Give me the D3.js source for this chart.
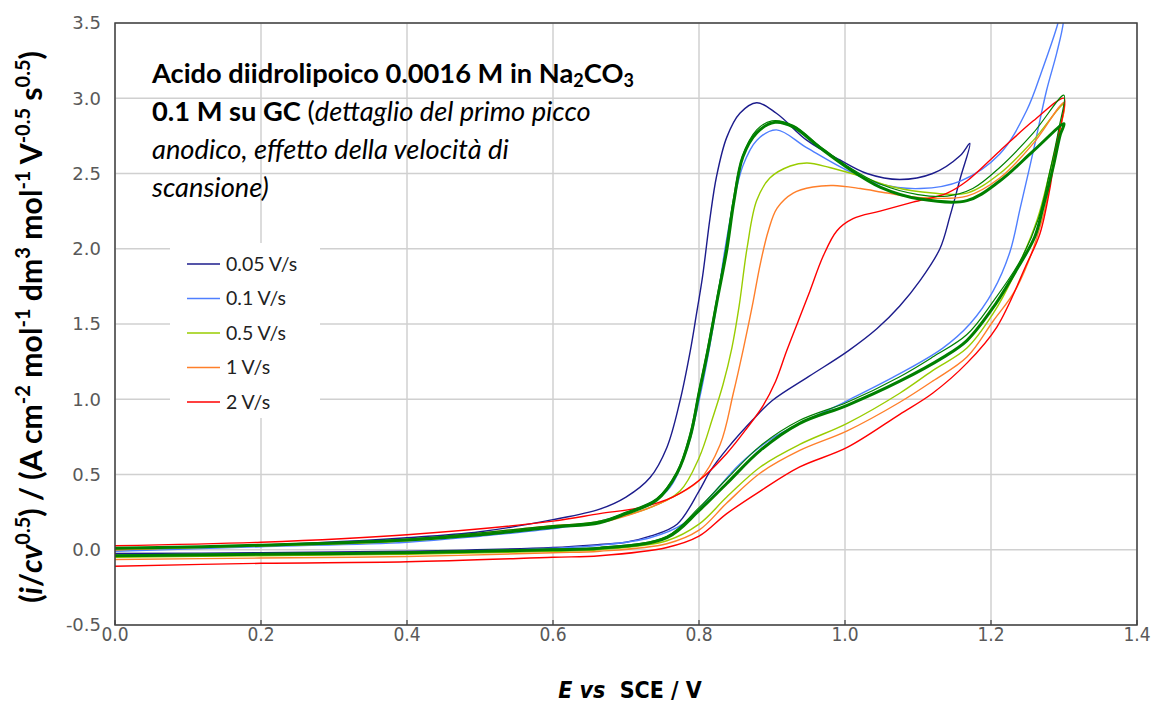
<!DOCTYPE html>
<html lang="it">
<head>
<meta charset="UTF-8">
<title>Acido diidrolipoico - CV</title>
<script src="https://d3js.org/d3.v7.min.js"></script>
<style>
  body { margin: 0; background: #fff; }
  svg { display: block; }
  .grid line { stroke: #d0d0d0; stroke-width: 1.5; }
  .ytick { font-family: "DejaVu Sans", Verdana, sans-serif; font-size: 18px; fill: #595959; }
  .xtick { font-family: "Liberation Sans Narrow", "DejaVu Sans Condensed", Lato, sans-serif; font-size: 19px; fill: #595959; }
  .cv { fill: none; stroke-linejoin: round; }
  .lab { font-family: Lato, "Open Sans", sans-serif; }
</style>
</head>
<body>
<svg width="1155" height="709"></svg>
<script>
// assi
const xTicks = [0, 0.2, 0.4, 0.6, 0.8, 1.0, 1.2, 1.4];
const yTicks = [-0.5, 0, 0.5, 1.0, 1.5, 2.0, 2.5, 3.0, 3.5];

// curve [E, i/cv^0.5]: andata poi ritorno
const v005 = [[0,0.0],[0.2,0.03],[0.4,0.08],[0.5,0.12],[0.6,0.20],[0.664,0.27],[0.70,0.35],[0.733,0.48],[0.756,0.68],[0.774,0.99],[0.788,1.32],[0.796,1.55],[0.805,1.82],[0.815,2.20],[0.824,2.48],[0.838,2.74],[0.856,2.90],[0.879,2.97],[0.906,2.90],[0.948,2.72],[0.993,2.59],[1.03,2.50],[1.075,2.46],[1.12,2.50],[1.158,2.62],[1.171,2.70],
  [1.158,2.47],[1.144,2.22],[1.13,2.0],[1.103,1.79],[1.075,1.62],[1.044,1.47],[1.004,1.32],[0.95,1.15],[0.90,0.99],[0.873,0.86],[0.84,0.68],[0.815,0.52],[0.80,0.39],[0.77,0.17],[0.733,0.09],[0.70,0.05],[0.664,0.035],[0.6,0.015],[0.4,-0.01],[0.2,-0.02],[0,-0.025]];

const v01 = [[0,-0.01],[0.2,0.02],[0.4,0.05],[0.5,0.09],[0.6,0.14],[0.664,0.19],[0.71,0.26],[0.756,0.39],[0.783,0.66],[0.80,0.99],[0.812,1.28],[0.824,1.62],[0.835,1.98],[0.847,2.3],[0.86,2.55],[0.879,2.72],[0.906,2.79],[0.948,2.67],[1.003,2.52],[1.048,2.43],[1.103,2.40],[1.158,2.45],[1.212,2.63],[1.249,2.92],[1.271,3.2],[1.29,3.47],[1.30,3.65],
  [1.299,3.5],[1.29,3.3],[1.276,3.05],[1.258,2.65],[1.24,2.27],[1.226,1.98],[1.203,1.72],[1.171,1.50],[1.134,1.34],[1.075,1.17],[1.003,0.99],[0.90,0.74],[0.856,0.57],[0.815,0.35],[0.778,0.17],[0.733,0.08],[0.664,0.03],[0.6,0.01],[0.4,-0.02],[0.2,-0.03],[0,-0.04]];

const v05 = [[0,0.0],[0.2,0.025],[0.4,0.06],[0.6,0.15],[0.664,0.19],[0.733,0.28],[0.774,0.39],[0.80,0.61],[0.819,0.88],[0.833,1.10],[0.845,1.34],[0.855,1.62],[0.866,2.01],[0.879,2.32],[0.897,2.47],[0.925,2.55],[0.948,2.57],[0.979,2.54],[1.016,2.49],[1.066,2.41],[1.12,2.37],[1.167,2.37],[1.212,2.50],[1.258,2.72],[1.30,2.96],
  [1.292,2.75],[1.28,2.5],[1.263,2.19],[1.23,1.81],[1.203,1.57],[1.167,1.34],[1.12,1.19],[1.075,1.04],[1.003,0.84],[0.938,0.70],[0.884,0.55],[0.838,0.35],[0.80,0.17],[0.756,0.06],[0.664,0.0],[0.6,-0.01],[0.4,-0.03],[0.2,-0.04],[0,-0.05]];

const v1 = [[0,0.0],[0.2,0.03],[0.4,0.065],[0.6,0.16],[0.664,0.18],[0.71,0.24],[0.756,0.33],[0.80,0.46],[0.829,0.70],[0.847,1.04],[0.861,1.34],[0.873,1.62],[0.884,1.90],[0.895,2.12],[0.907,2.27],[0.929,2.37],[0.956,2.41],[0.984,2.42],[1.021,2.40],[1.058,2.37],[1.103,2.34],[1.167,2.35],[1.212,2.47],[1.258,2.70],[1.30,2.97],
  [1.29,2.7],[1.27,2.19],[1.235,1.74],[1.203,1.52],[1.167,1.28],[1.12,1.12],[1.075,0.98],[1.003,0.79],[0.938,0.66],[0.884,0.51],[0.838,0.31],[0.80,0.13],[0.756,0.04],[0.664,-0.01],[0.6,-0.02],[0.4,-0.045],[0.2,-0.055],[0,-0.065]];

const v2 = [[0,0.027],[0.2,0.05],[0.4,0.10],[0.6,0.19],[0.664,0.24],[0.719,0.28],[0.764,0.35],[0.80,0.46],[0.838,0.64],[0.866,0.81],[0.888,0.96],[0.905,1.12],[0.92,1.32],[0.936,1.52],[0.952,1.72],[0.97,1.95],[0.989,2.12],[1.011,2.20],[1.048,2.25],[1.093,2.31],[1.14,2.37],[1.167,2.45],[1.212,2.65],[1.258,2.85],[1.30,3.0],
  [1.298,2.88],[1.29,2.70],[1.281,2.41],[1.267,2.10],[1.249,1.90],[1.208,1.48],[1.167,1.24],[1.12,1.04],[1.075,0.90],[1.003,0.68],[0.938,0.55],[0.884,0.39],[0.838,0.24],[0.80,0.09],[0.756,0.015],[0.664,-0.04],[0.6,-0.05],[0.4,-0.08],[0.2,-0.09],[0,-0.11]];

// curve verdi (senza legenda)
const vg1 = [[0,0.01],[0.2,0.03],[0.4,0.07],[0.6,0.16],[0.664,0.19],[0.70,0.25],[0.742,0.34],[0.77,0.52],[0.788,0.78],[0.80,1.06],[0.811,1.32],[0.824,1.66],[0.836,1.98],[0.846,2.30],[0.86,2.62],[0.879,2.79],[0.9,2.85],[0.929,2.82],[0.966,2.68],[1.003,2.55],[1.048,2.43],[1.1,2.36],[1.14,2.35],[1.175,2.40],[1.212,2.54],[1.258,2.77],[1.30,3.02],
  [1.293,2.8],[1.28,2.5],[1.265,2.2],[1.24,1.92],[1.203,1.65],[1.167,1.43],[1.12,1.28],[1.075,1.15],[1.003,0.98],[0.938,0.86],[0.884,0.69],[0.838,0.47],[0.80,0.28],[0.756,0.09],[0.664,0.015],[0.6,0.005],[0.4,-0.015],[0.2,-0.025],[0,-0.035]];

const vg2 = [[0,0.01],[0.2,0.03],[0.4,0.065],[0.5,0.10],[0.6,0.15],[0.664,0.18],[0.70,0.24],[0.742,0.33],[0.77,0.51],[0.788,0.75],[0.80,1.04],[0.812,1.32],[0.825,1.66],[0.838,1.99],[0.848,2.32],[0.86,2.61],[0.879,2.77],[0.904,2.84],[0.929,2.81],[0.966,2.67],[1.003,2.54],[1.048,2.41],[1.103,2.33],[1.167,2.32],[1.212,2.45],[1.258,2.65],[1.30,2.83],
  [1.295,2.76],[1.285,2.54],[1.271,2.27],[1.26,2.08],[1.235,1.86],[1.203,1.61],[1.167,1.39],[1.135,1.28],[1.075,1.12],[1.003,0.96],[0.938,0.84],[0.884,0.66],[0.838,0.44],[0.80,0.26],[0.756,0.08],[0.664,0.01],[0.6,0.0],[0.4,-0.02],[0.2,-0.03],[0,-0.04]];

const speeds = ["0.05 V/s", "0.1 V/s", "0.5 V/s", "1 V/s", "2 V/s"];
const colors = ["#1c1c8c", "#4f7fff", "#99cc00", "#ff7f2a", "#ff0000"];

const svg = d3.select("svg");
const x = d3.scaleLinear().domain([0, 1.4]).range([115, 1137]);
const y = d3.scaleLinear().domain([-0.5, 3.5]).range([625, 23]);
const fmt = d => d.toFixed(1);

// griglia
const grid = svg.append("g").attr("class", "grid");
grid.selectAll(".h").data(yTicks).enter().append("line")
  .attr("x1", x(0)).attr("x2", x(1.4)).attr("y1", d => y(d)).attr("y2", d => y(d));
grid.selectAll(".v").data(xTicks).enter().append("line")
  .attr("y1", y(-0.5)).attr("y2", y(3.5)).attr("x1", d => x(d)).attr("x2", d => x(d));

// etichette assi
svg.append("g").selectAll("text").data(yTicks).enter().append("text")
  .attr("class", "ytick").attr("x", 101).attr("y", d => y(d)).attr("dy", "0.36em")
  .attr("text-anchor", "end").text(fmt);

svg.append("g").selectAll("text").data(xTicks).enter().append("text")
  .attr("class", "xtick").attr("x", d => x(d)).attr("y", 641)
  .attr("text-anchor", "middle").text(fmt);

// tacche in basso
svg.append("g").selectAll("line").data(xTicks).enter().append("line")
  .attr("x1", d => x(d)).attr("x2", d => x(d)).attr("y1", y(-0.5)).attr("y2", y(-0.5) - 5)
  .attr("stroke", "#404040").attr("stroke-width", 1.2);

// riquadro legenda (sfondo bianco)
svg.append("rect").attr("x", 170).attr("y", 243).attr("width", 150).attr("height", 175).attr("fill", "#fff");

// curve
svg.append("clipPath").attr("id", "clip").append("rect")
  .attr("x", x(0)).attr("y", y(3.5)).attr("width", x(1.4) - x(0)).attr("height", y(-0.5) - y(3.5));

const line = d3.line().x(d => x(d[0])).y(d => y(d[1])).curve(d3.curveCatmullRom.alpha(0.5));
const plot = svg.append("g").attr("clip-path", "url(#clip)");
const series = [v005, v01, v05, v1, v2];
series.forEach((s, i) => {
  plot.append("path").datum(s).attr("class", "cv").attr("stroke", colors[i]).attr("stroke-width", 1.4).attr("d", line);
});
plot.append("path").datum(vg1).attr("class", "cv").attr("stroke", "#008000").attr("stroke-width", 1.2).attr("d", line);
plot.append("path").datum(vg2).attr("class", "cv").attr("stroke", "#008000").attr("stroke-width", 3).attr("d", line);

// bordo area grafico
svg.append("rect").attr("x", x(0)).attr("y", y(3.5)).attr("width", x(1.4) - x(0)).attr("height", y(-0.5) - y(3.5))
  .attr("fill", "none").attr("stroke", "#404040").attr("stroke-width", 1.5);

// legenda
const leg = svg.append("g");
speeds.forEach((s, i) => {
  const ly = 264 + i * 34.5;
  leg.append("line").attr("x1", 187).attr("x2", 220).attr("y1", ly).attr("y2", ly)
    .attr("stroke", colors[i]).attr("stroke-width", 1.5);
  leg.append("text").attr("class", "lab").attr("x", 226).attr("y", ly).attr("dy", "0.35em")
    .attr("font-size", 19.5).attr("fill", "#222").text(s);
});

// titolo nel grafico
const title = svg.append("g").attr("class", "lab").attr("font-size", 20);
const t1 = title.append("text").attr("x", 152).attr("y", 83).attr("font-weight", "bold");
t1.append("tspan").text("Acido diidrolipoico 0.0016 M in Na");
t1.append("tspan").attr("dy", 4).attr("font-size", "66%").text("2");
t1.append("tspan").attr("dy", -4).text("CO");
t1.append("tspan").attr("dy", 4).attr("font-size", "66%").text("3");
const t2 = title.append("text").attr("x", 152).attr("y", 121);
t2.append("tspan").attr("font-weight", "bold").text("0.1 M su GC ");
t2.append("tspan").text("(");
t2.append("tspan").attr("font-style", "italic").text("dettaglio del primo picco");
title.append("text").attr("x", 152).attr("y", 159)
  .attr("font-style", "italic").text("anodico, effetto della velocità di");
title.append("text").attr("x", 152).attr("y", 197)
  .attr("font-style", "italic").text("scansione)");
// adatta la dimensione alla larghezza della prima riga
title.attr("font-size", 20 * 482 / t1.node().getComputedTextLength());

// titolo asse x
const xt = svg.append("text").attr("x", 630).attr("y", 698).attr("text-anchor", "middle")
  .attr("font-family", "'Liberation Sans Narrow', 'DejaVu Sans Condensed', Lato, sans-serif")
  .attr("font-size", 23).attr("font-weight", "bold");
xt.append("tspan").attr("font-style", "italic").text("E vs");
xt.append("tspan").text("\u00a0 SCE / V");

// titolo asse y
const yt = svg.append("text").attr("class", "lab").attr("transform", "translate(42,327) rotate(-90)")
  .attr("text-anchor", "middle").attr("font-size", 21).attr("font-weight", "bold");
const sup = (g, t) => g.append("tspan").attr("baseline-shift", "super").attr("font-size", "66%").text(t);
yt.append("tspan").text("(");
yt.append("tspan").attr("font-style", "italic").text("i");
yt.append("tspan").text("/");
yt.append("tspan").attr("font-style", "italic").text("cv");
sup(yt, "0.5");
yt.append("tspan").text(") / (A cm");
sup(yt, "-2");
yt.append("tspan").text(" mol");
sup(yt, "-1");
yt.append("tspan").text(" dm");
sup(yt, "3");
yt.append("tspan").text(" mol");
sup(yt, "-1");
yt.append("tspan").text(" V");
sup(yt, "-0.5");
yt.append("tspan").text(" s");
sup(yt, "0.5");
yt.append("tspan").text(")");
yt.attr("font-size", 21 * 552 / yt.node().getComputedTextLength());
</script>
</body>
</html>
